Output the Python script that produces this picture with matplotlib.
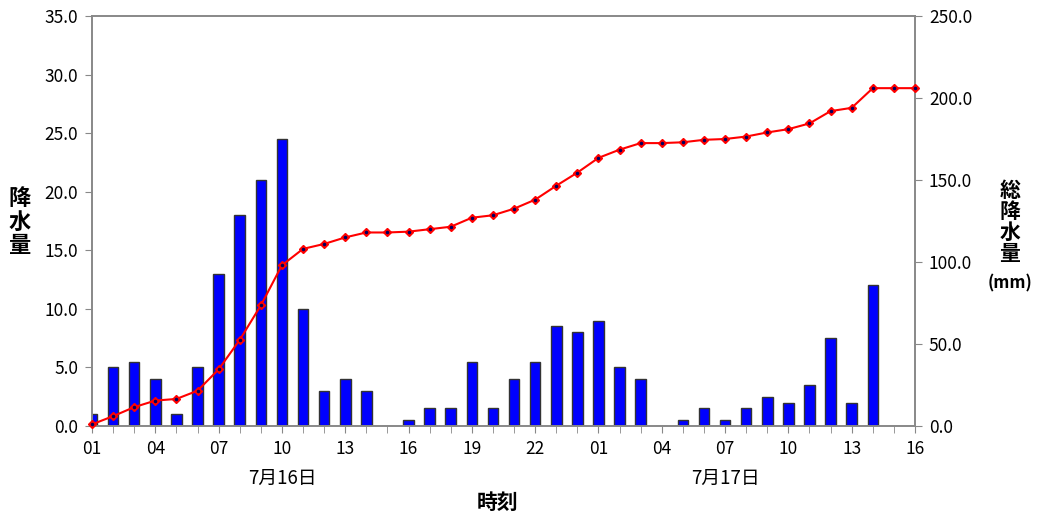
import matplotlib
matplotlib.use("Agg")
import matplotlib.pyplot as plt
import numpy as np

plt.rcParams['font.family'] = ['Noto Sans CJK JP', 'DejaVu Sans']

hours = ["01","02","03","04","05","06","07","08","09","10","11","12","13","14","15","16",
         "17","18","19","20","21","22","23","24",
         "01","02","03","04","05","06","07","08","09","10","11","12","13","14","15","16"]
hourly = [1.0, 5.0, 5.5, 4.0, 1.0, 5.0, 13.0, 18.0, 21.0, 24.5, 10.0, 3.0, 4.0, 3.0, 0.0, 0.5,
          1.5, 1.5, 5.5, 1.5, 4.0, 5.5, 8.5, 8.0,
          9.0, 5.0, 4.0, 0.0, 0.5, 1.5, 0.5, 1.5, 2.5, 2.0, 3.5, 7.5, 2.0, 12.0, 0.0, 0.0]
cumulative = [1.0, 6.0, 11.5, 15.5, 16.5, 21.5, 34.5, 52.5, 73.5, 98.0, 108.0, 111.0, 115.0, 118.0, 118.0, 118.5,
              120.0, 121.5, 127.0, 128.5, 132.5, 138.0, 146.5, 154.5,
              163.5, 168.5, 172.5, 172.5, 173.0, 174.5, 175.0, 176.5, 179.0, 181.0, 184.5, 192.0, 194.0, 206.0, 206.0, 206.0]
date_labels = ["7月16日", "7月17日"]
date_pos = [9, 30]

x = np.arange(len(hours))

fig = plt.figure(figsize=(10.38, 5.17), dpi=100)
ax = fig.add_axes([92/1038, 1-426/517, (915-92)/1038, 410/517])
ax2 = ax.twinx()

ax.bar(x, hourly, width=0.5, color='#0000FF', edgecolor='#333333', linewidth=1.0, zorder=2)
ax2.plot(x, cumulative, color='#FF0000', linewidth=1.5, marker='D', markersize=4.5,
         markerfacecolor='#FF0000', markeredgecolor='#FF0000', zorder=3, clip_on=False)
ax2.plot(x, cumulative, linestyle='none', marker='o', markersize=1.5,
         color='#000060', zorder=4, clip_on=False)

ax.set_xlim(0, 39)
ax.set_ylim(0, 35)
ax2.set_ylim(0, 250)

ax.set_yticks(np.arange(0, 35.1, 5))
ax.set_yticklabels([f"{v:.1f}" for v in np.arange(0, 35.1, 5)])
ax2.set_yticks(np.arange(0, 250.1, 50))
ax2.set_yticklabels([f"{v:.1f}" for v in np.arange(0, 250.1, 50)])

ax.set_xticks(x, minor=True)
major = x[::3]
ax.set_xticks(major)
ax.set_xticklabels([hours[i] for i in major])

for a in (ax, ax2):
    for s in a.spines.values():
        s.set_color('#888888')
        s.set_linewidth(1.2)
ax.tick_params(axis='x', which='both', direction='out', length=5, color='#888888', labelsize=12.5, pad=5)
ax.tick_params(axis='y', direction='out', length=5, color='#888888', labelsize=12.5, pad=5)
ax2.tick_params(axis='y', direction='out', length=5, color='#888888', labelsize=12.5, pad=5)

for lbl, p in zip(date_labels, date_pos):
    ax.text(p, -0.127, lbl, transform=ax.get_xaxis_transform(), ha='center', va='center', fontsize=13.5)

fig.text(498/1038, 1-502/517, "時刻", ha='center', va='center', fontsize=15, fontweight='bold')
fig.text(20/1038, 1-222/517, "降\n水\n量", ha='center', va='center', fontsize=16, fontweight='bold', linespacing=1.05)
fig.text(1010/1038, 1-222/517, "総\n降\n水\n量", ha='center', va='center', fontsize=15, fontweight='bold', linespacing=1.0)
fig.text(1010/1038, 1-283/517, "(mm)", ha='center', va='center', fontsize=12, fontweight='bold')

fig.savefig("out.png", dpi=100)
